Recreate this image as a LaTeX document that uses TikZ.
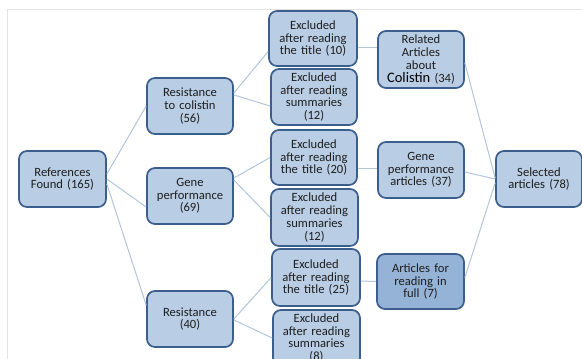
\documentclass[tikz,border=0pt]{standalone}
\usepackage{fontspec}
\setmainfont{Carlito}
\usetikzlibrary{calc}
\definecolor{boxfill}{HTML}{B9CDE5}
\definecolor{boxfilldark}{HTML}{95B3D7}
\definecolor{boxline}{HTML}{3B5E8C}
\definecolor{conn}{HTML}{B2C6DF}
\definecolor{frameline}{HTML}{E3E3E3}
\definecolor{txt}{HTML}{1E1E1E}
\tikzset{
  box/.style={draw=boxline, line width=1.7pt, fill=boxfill, rounded corners=8pt,
    minimum width=86pt, minimum height=56pt, inner sep=1pt, align=center,
    text=txt, font=\fontsize{12.6}{12.7}\selectfont, text width=84pt},
  darkbox/.style={box, fill=boxfilldark},
  link/.style={draw=conn, line width=1pt},
}
\begin{document}
\begin{tikzpicture}[x=1pt, y=-1pt]
\useasboundingbox (0,0) rectangle (582,359);
\fill[white] (0,0) rectangle (582,359);
\clip (0,0) rectangle (582,359);
\draw[frameline, line width=0.8pt] (582,9) -- (7,9) -- (7,360);
% nodes
\node[box, minimum width=87pt] (ref) at (62.5,179) {References\\Found (165)};
\node[box] (rc) at (190,106) {Resistance\\to colistin\\(56)};
\node[box] (gp) at (190,196) {Gene\\performance\\(69)};
\node[box] (rs) at (190,319) {Resistance\\(40)};
\node[box, minimum width=88pt, minimum height=55pt] (t10) at (313,38.5) {Excluded\\after reading\\the title (10)};
\node[box] (s12a) at (314,97) {Excluded\\after reading\\summaries\\(12)};
\node[box, minimum height=55pt] (t20) at (314,157.5) {Excluded\\after reading\\the title (20)};
\node[box, minimum width=87pt, minimum height=57pt] (s12b) at (314.5,217.5) {Excluded\\after reading\\summaries\\(12)};
\node[box, minimum width=88pt, minimum height=57pt] (t25) at (316,277.5) {Excluded\\after reading\\the title (25)};
\node[box, minimum width=87pt] (s8) at (316.5,338) {Excluded\\after reading\\summaries\\(8)};
\node[box, minimum height=57pt] (rel) at (421,59.5) {Related\\Articles\\about\\{\fontsize{14.5}{15}\selectfont\color{black}Colistin} (34)};
\node[box] (gpa) at (421,170) {Gene\\performance\\articles (37)};
\node[darkbox, minimum width=87pt, minimum height=55pt] (full) at (420.5,281.5) {Articles for\\reading in\\full (7)};
\node[box, minimum width=84pt] (sel) at (539,179) {Selected\\articles (78)};
% connectors
\draw[link] ($(ref.east)+(0,-5)$) -- (rc.west);
\draw[link] (ref.east) -- ($(gp.west)+(0,11)$);
\draw[link] ($(ref.east)+(0,5)$) -- ($(rs.west)+(0,-14)$);
\draw[link] ($(rc.east)+(0,-13)$) -- ($(t10.west)+(0,13)$);
\draw[link] ($(rc.east)+(0,-11)$) -- ($(s12a.west)+(0,9)$);
\draw[link] ($(gp.east)+(0,-18)$) -- (t20.west);
\draw[link] ($(gp.east)+(0,-16)$) -- (s12b.west);
\draw[link] (rs.east) -- (t25.west);
\draw[link] ($(rs.east)+(0,1)$) -- (s8.west);
\draw[link] ($(t10.east)+(0,8.5)$) -- ($(rel.west)+(0,-12.5)$);
\draw[link] ($(t20.east)+(0,10.5)$) -- ($(gpa.west)+(0,-2)$);
\draw[link] ($(t25.east)+(0,3.5)$) -- (full.west);
\draw[link] ($(rel.east)+(0,3.5)$) -- ($(sel.west)+(0,-1)$);
\draw[link] ($(gpa.east)+(0,2)$) -- (sel.west);
\draw[link] ($(full.east)+(0,-4)$) -- ($(sel.west)+(0,4)$);
\end{tikzpicture}
\end{document}
